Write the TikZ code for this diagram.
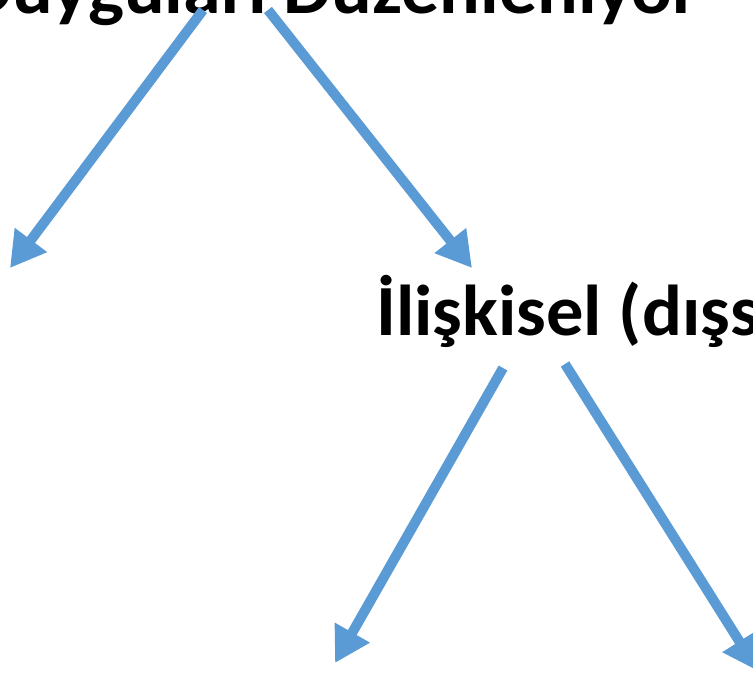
\documentclass[tikz,border=0pt]{standalone}
\usepackage{fontspec}
\setmainfont{Carlito}
\usetikzlibrary{arrows.meta}
\definecolor{officeblue}{HTML}{5B9BD5}
\begin{document}
\begin{tikzpicture}[x=1pt,y=-1pt,
  label/.style={font=\bfseries\fontsize{72}{86}\selectfont, inner sep=0pt, anchor=base west, text=black},
  branch/.style={draw=officeblue, line width=10pt,
    -{Triangle[length=35pt,width=38pt]}}]
  \useasboundingbox (0,0) rectangle (753,673);
  \clip (0,0) rectangle (753,673);
  \fill[white] (0,0) rectangle (753,673);

  \node[label] (top) at (-36,13) {\scalebox{1.055}[1]{Duyguları Düzenleniyor}};
  \node[label] (rel) at (376,335) {\scalebox{1.035}[1]{İlişkisel (dışs}};

  \coordinate (a1s) at (203,10);  \coordinate (a1e) at (10,268);
  \coordinate (a2s) at (268,10);  \coordinate (a2e) at (472,268);
  \coordinate (a3s) at (503,368); \coordinate (a3e) at (335,663);
  \coordinate (a4s) at (565,364); \coordinate (a4e) at (758,671);

  \draw[branch] (a1s) -- (a1e);
  \draw[branch] (a2s) -- (a2e);
  \draw[branch] (a3s) -- (a3e);
  \draw[branch] (a4s) -- (a4e);
\end{tikzpicture}
\end{document}
